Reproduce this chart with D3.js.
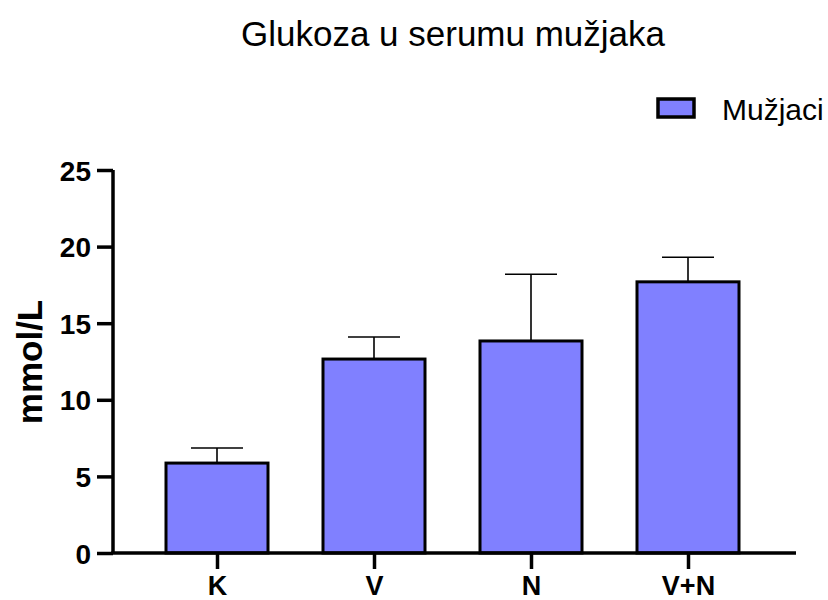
<!DOCTYPE html>
<html><head><meta charset="utf-8">
<script src="https://cdn.jsdelivr.net/npm/d3@7"></script>
<style>body{margin:0;background:#fff}</style>
</head><body>
<svg id="c" width="828" height="600"></svg>
<script>
const categories = ["K", "V", "N", "V+N"];
const means = [5.87, 12.66, 13.84, 17.7];
const errUpper = [6.85, 14.1, 18.2, 19.3];
const yTicks = [0, 5, 10, 15, 20, 25];
const seriesName = "Mužjaci";
const title = "Glukoza u serumu mužjaka";
const yTitle = "mmol/L";

const svg = d3.select("#c");
const font = "Liberation Sans, Arial, sans-serif";
const x0 = 113, x1 = 796, yBase = 553, yTop = 170;
const y = d3.scaleLinear().domain([0, 25]).range([yBase, yTop]);
const x = d3.scalePoint().domain(categories).range([217, 688]);
const bw = 102, capW = 52;
const fill = "#8080ff";

// title
svg.append("text").attr("x", 453).attr("y", 46).attr("text-anchor", "middle")
  .attr("font-family", font).attr("font-size", 35).text(title);

// bars
const g = svg.append("g");
categories.forEach((c, i) => {
  const cx = x(c);
  g.append("line").attr("x1", cx).attr("x2", cx).attr("y1", y(means[i])).attr("y2", y(errUpper[i]))
    .attr("stroke", "#000").attr("stroke-width", 1.6);
  g.append("line").attr("x1", cx - capW/2).attr("x2", cx + capW/2).attr("y1", y(errUpper[i])).attr("y2", y(errUpper[i]))
    .attr("stroke", "#000").attr("stroke-width", 1.6);
  g.append("rect").attr("x", cx - bw/2).attr("y", y(means[i])).attr("width", bw).attr("height", yBase - y(means[i]))
    .attr("fill", fill).attr("stroke", "#000").attr("stroke-width", 3);
});

// y axis
const yAxis = svg.append("g").attr("transform", `translate(${x0},0)`)
  .call(d3.axisLeft(y).tickValues(yTicks).tickSize(16).tickPadding(6).tickFormat(d3.format("d")));
yAxis.select(".domain").attr("stroke-width", 3.5).attr("d", `M0,${yTop}V${yBase}`);
yAxis.selectAll(".tick line").attr("stroke-width", 3.5);
yAxis.selectAll(".tick text").attr("font-family", font).attr("font-size", 28).attr("font-weight", "bold").attr("fill", "#000").attr("dy", "0.36em");

// x axis
const xAxis = svg.append("g").attr("transform", `translate(0,${yBase})`)
  .call(d3.axisBottom(x).tickSize(16).tickPadding(0));
xAxis.select(".domain").attr("stroke-width", 3.5).attr("d", `M${x0 - 1.75},0H${x1}`);
xAxis.selectAll(".tick line").attr("stroke-width", 3.5);
xAxis.selectAll(".tick text").attr("font-family", font).attr("font-size", 27).attr("font-weight", "bold").attr("fill", "#000")
  .attr("dy", null).attr("y", 42);

// y title
svg.append("text").attr("transform", "translate(42,362) rotate(-90)").attr("text-anchor", "middle")
  .attr("font-family", font).attr("font-size", 35).attr("font-weight", "bold").text(yTitle);

// legend
svg.append("rect").attr("x", 658).attr("y", 99).attr("width", 36).attr("height", 18)
  .attr("fill", fill).attr("stroke", "#000").attr("stroke-width", 3.5);
svg.append("text").attr("x", 722).attr("y", 120).attr("font-family", font).attr("font-size", 30).text(seriesName);
</script>
</body></html>
